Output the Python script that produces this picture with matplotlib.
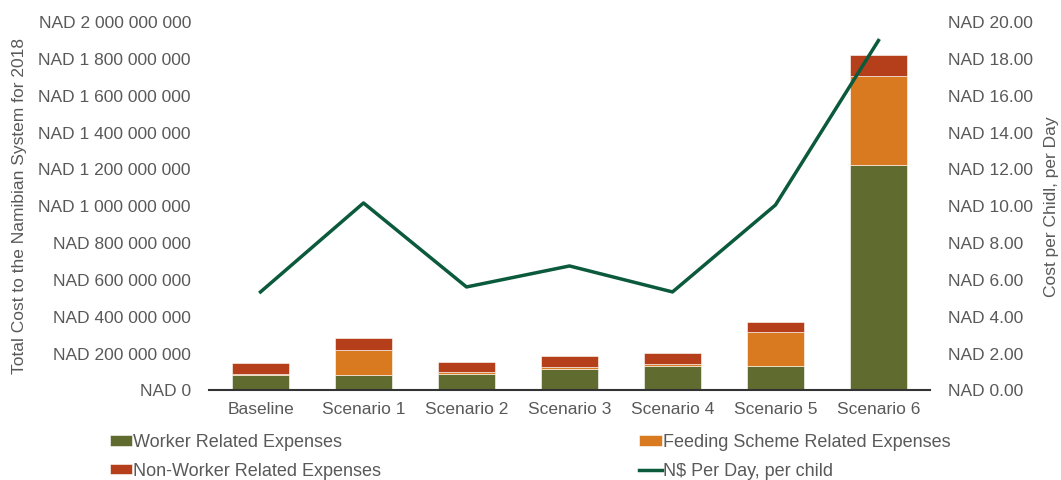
import matplotlib
matplotlib.use("Agg")
import matplotlib.pyplot as plt
import numpy as np
from matplotlib.ticker import FuncFormatter

plt.rcParams['font.family'] = ['Liberation Sans', 'DejaVu Sans']

categories = ["Baseline", "Scenario 1", "Scenario 2", "Scenario 3", "Scenario 4", "Scenario 5", "Scenario 6"]
worker = [84e6, 84e6, 90e6, 117e6, 131e6, 131e6, 1225e6]
feeding = [7e6, 137e6, 9e6, 11e6, 11e6, 187e6, 480e6]
non_worker = [58e6, 64e6, 56e6, 58e6, 60e6, 56e6, 114e6]
per_day = [5.35, 10.18, 5.62, 6.76, 5.35, 10.07, 19.0]

c_worker = "#5F6B2F"
c_feed = "#D97A20"
c_non = "#B43F1A"
c_line = "#0B5A3C"
txt = "#595959"
fs = 12.5

fig = plt.figure(figsize=(10.61, 4.8), dpi=100)
ax = fig.add_axes([0.197, 0.1865, 0.6795, 0.7675])
ax2 = ax.twinx()

x = np.arange(len(categories))
w = 0.56
b1 = ax.bar(x, worker, w, color=c_worker, label="Worker Related Expenses", edgecolor="white", linewidth=0.4)
b2 = ax.bar(x, feeding, w, bottom=worker, color=c_feed, label="Feeding Scheme Related Expenses", edgecolor="white", linewidth=0.4)
bottom3 = np.array(worker) + np.array(feeding)
b3 = ax.bar(x, non_worker, w, bottom=bottom3, color=c_non, label="Non-Worker Related Expenses", edgecolor="white", linewidth=0.4)
l1, = ax2.plot(x, per_day, color=c_line, linewidth=2.5, label="N$ Per Day, per child")

ax.set_xlim(-0.5, len(categories) - 0.5)
ax.set_ylim(0, 2e9)
ax2.set_ylim(0, 20)
ax.set_yticks(np.arange(0, 2.0001e9, 2e8))
ax2.set_yticks(np.arange(0, 20.001, 2))

def left_fmt(v, pos):
    if v == 0:
        return "NAD 0"
    s = f"{int(round(v)):,}".replace(",", " ")
    return "NAD " + s

ax.yaxis.set_major_formatter(FuncFormatter(left_fmt))
ax2.yaxis.set_major_formatter(FuncFormatter(lambda v, p: f"NAD {v:.2f}"))

ax.set_xticks(x)
ax.set_xticklabels(categories)

for a in (ax, ax2):
    for s in ("top", "left", "right", "bottom"):
        a.spines[s].set_visible(False)
    a.tick_params(axis="y", length=0, labelsize=fs, colors=txt, pad=13)
    a.tick_params(axis="x", length=0, labelsize=fs, colors=txt, pad=8)
ax.spines["bottom"].set_visible(True)
ax.spines["bottom"].set_color("#333333")
ax.spines["bottom"].set_linewidth(1.5)

ax.set_ylabel("Total Cost to the Namibian System for 2018", fontsize=fs, color=txt, labelpad=8)
ax2.set_ylabel("Cost per Chidl, per Day", fontsize=fs, color=txt, labelpad=8)

handles = [b1, b3, b2, l1]
leg = fig.legend(handles=handles, labels=[h.get_label() for h in handles], ncol=2,
                 loc="lower left", bbox_to_anchor=(0.093, -0.022),
                 frameon=False, fontsize=13, handlelength=1.25, handleheight=0.5,
                 handletextpad=0.05, labelspacing=0.65, columnspacing=14.3, borderaxespad=0.2)
for t in leg.get_texts():
    t.set_color(txt)

fig.savefig("out.png", dpi=100)
